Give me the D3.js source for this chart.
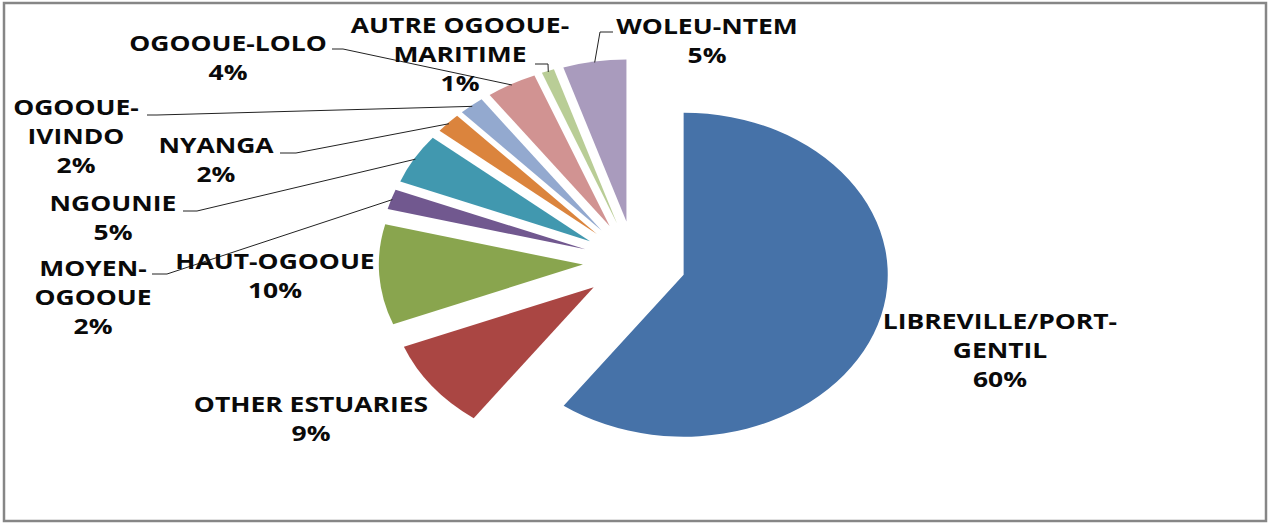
<!DOCTYPE html>
<html>
<head>
<meta charset="utf-8">
<script src="https://cdn.jsdelivr.net/npm/d3@7"></script>
<style>
  html, body { margin: 0; padding: 0; background: #fff; }
  svg { display: block; }
  .lbl { font-family: "Open Sans", "Noto Sans", sans-serif; font-weight: bold; font-size: 21px; fill: #0a0a0a; }
</style>
</head>
<body>
<svg id="chart"></svg>
<script>
var width = 1269;
var height = 523;

// data
const categories = ["LIBREVILLE/PORT-GENTIL", "OTHER ESTUARIES", "HAUT-OGOOUE", "MOYEN-OGOOUE", "NGOUNIE",
                    "NYANGA", "OGOOUE-IVINDO", "OGOOUE-LOLO", "AUTRE OGOOUE-MARITIME", "WOLEU-NTEM"];
const shares = [60, 9, 10, 2, 5, 2, 2, 4, 1, 5];
const labelLines = [["LIBREVILLE/PORT-", "GENTIL"], ["OTHER ESTUARIES"], ["HAUT-OGOOUE"], ["MOYEN-", "OGOOUE"],
                    ["NGOUNIE"], ["NYANGA"], ["OGOOUE-", "IVINDO"], ["OGOOUE-LOLO"], ["AUTRE OGOOUE-", "MARITIME"], ["WOLEU-NTEM"]];
const colors = ["#4672A8", "#AA4643", "#89A54E", "#71588F", "#4198AF",
                "#DB843D", "#93A9CF", "#D19392", "#B9CD96", "#A99BBD"];

// label layout: text centre x, first line centre y, leader start [x, y, stub]
const labelPos = [
    [1000, 322, null],
    [311, 405, null],
    [275, 262, null],
    [93, 269, [152, 274, 15]],
    [113, 204, [183, 211, 14]],
    [216, 146, [280, 153, 16]],
    [76, 108, [147, 115, 10]],
    [228, 43.5, [332, 49, 11]],
    [460, 26, [535, 64, 13]],
    [707, 27, [613, 32, -13]]
];

// the original picture is stretched sideways
const sx = 1.26;
const cx = 634.5 / sx, cy = 262;
const radius = 162, explode = 41;
const lineGap = 29;

var svg = d3.select("#chart")
    .attr("width", width)
    .attr("height", height);

svg.append("rect")
    .attr("x", 4).attr("y", 3)
    .attr("width", width - 7).attr("height", height - 5)
    .attr("fill", "#fff")
    .attr("stroke", "#868686")
    .attr("stroke-width", 2.5);

let wrapper = svg.append("g").attr("transform", `scale(${sx},1)`);

let pie = d3.pie().sort(null).value(d => d);
let arc = d3.arc().innerRadius(0).outerRadius(radius);
let arcs = pie(shares);

function dir(a) { return [Math.sin(a), -Math.cos(a)]; }

let slices = wrapper.append("g").attr("transform", `translate(${cx},${cy})`);
slices.selectAll("path")
    .data(arcs)
    .join("path")
    .attr("d", arc)
    .attr("fill", (d, i) => colors[i])
    .attr("transform", d => {
        let m = dir((d.startAngle + d.endAngle) / 2);
        return `translate(${m[0] * explode},${m[1] * explode})`;
    });

// leader lines
let leaders = wrapper.append("g")
    .attr("fill", "none")
    .attr("stroke", "#222")
    .attr("stroke-width", 1);
arcs.forEach((d, i) => {
    let lead = labelPos[i][2];
    if (!lead) return;
    let m = dir((d.startAngle + d.endAngle) / 2);
    let ex = cx + m[0] * (radius + explode - 1),
        ey = cy + m[1] * (radius + explode - 1);
    let x0 = lead[0] / sx, x1 = (lead[0] + lead[2]) / sx;
    leaders.append("path")
        .attr("vector-effect", "non-scaling-stroke")
        .attr("d", `M${x0},${lead[1]}L${x1},${lead[1]}L${ex},${ey}`);
});

// labels
let labels = wrapper.append("g");
categories.forEach((c, i) => {
    let lines = labelLines[i].concat([d3.format(".0%")(shares[i] / 100)]);
    let t = labels.append("text")
        .attr("class", "lbl")
        .attr("text-anchor", "middle");
    lines.forEach((s, k) => {
        t.append("tspan")
            .attr("x", labelPos[i][0] / sx)
            .attr("y", labelPos[i][1] + k * lineGap + 7.5)
            .text(s);
    });
});
</script>
</body>
</html>
